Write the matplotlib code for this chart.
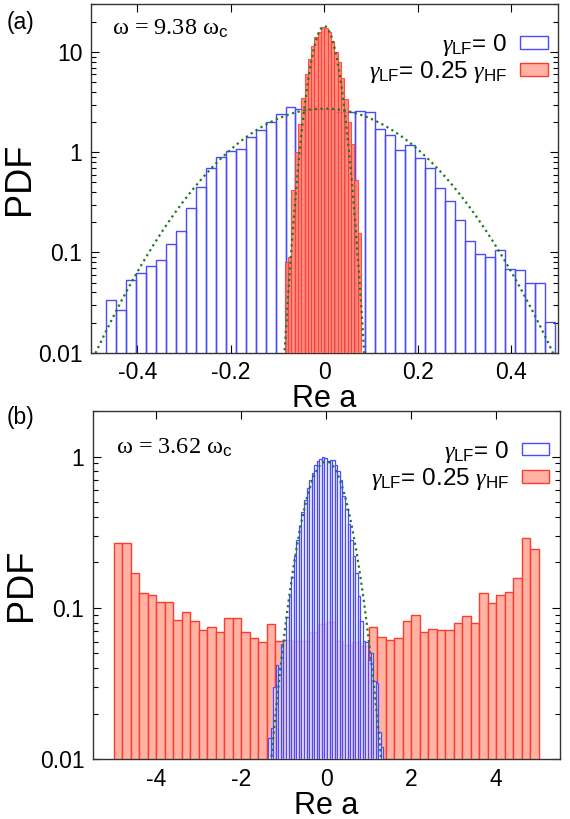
import numpy as np
import matplotlib.pyplot as plt
from matplotlib.patches import Patch

plt.rcParams['font.family'] = ['Liberation Sans', 'DejaVu Sans']
plt.rcParams['mathtext.fontset'] = 'custom'
plt.rcParams['mathtext.rm'] = 'Liberation Sans'
plt.rcParams['mathtext.sf'] = 'Liberation Sans'
plt.rcParams['mathtext.it'] = 'Liberation Serif:italic'

# ---- panel (a): omega = 9.38 omega_c ----
a_blue_lo = -0.467          # first bin edge, gamma_LF = 0
a_blue_w = 0.02133          # bin width
a_blue = [0.0335, 0.0266, 0.053, 0.063, 0.073, 0.084, 0.121, 0.164, 0.279, 0.454,
          0.70, 0.905, 1.04, 1.07, 1.43, 1.67, 2.03, 2.41, 2.83, 2.7,
          2.7, 2.7, 2.7, 2.5, 2.55, 2.6, 2.5, 1.7, 1.49, 1.06,
          1.19, 0.87, 0.69, 0.44, 0.33, 0.21, 0.129, 0.096, 0.091, 0.106,
          0.069, 0.066, 0.050, 0.050, 0.020]

a_red_lo = -0.085           # gamma_LF = 0.25 gamma_HF
a_red_w = 0.0071
a_red = [0.08, 0.09, 0.42, 1.0, 1.9, 3.5, 6.0, 8.5, 11.5, 14.0,
         16.0, 18.0, 17.5, 16.0, 13.0, 10.0, 8.0, 5.5, 3.4, 2.0,
         1.2, 0.53, 0.155]

a_sigma_wide = 0.146        # dotted gaussian fits
a_sigma_narrow = 0.022

# ---- panel (b): omega = 3.62 omega_c ----
b_blue_lo = -1.37
b_blue_w = 0.0604
b_blue = [0.0137, 0.016, 0.030, 0.042, 0.040, 0.058, 0.061, 0.087, 0.12, 0.16,
          0.22, 0.28, 0.35, 0.43, 0.52, 0.62, 0.70, 0.78, 0.88, 0.93,
          0.97, 1.0, 0.98, 0.94, 0.95, 0.95, 0.88, 0.80, 0.70, 0.55,
          0.45, 0.36, 0.28, 0.22, 0.17, 0.12, 0.082, 0.060, 0.059, 0.045,
          0.050, 0.033, 0.032, 0.015, 0.012]

b_red_lo = -5.0
b_red_w = 0.2
b_red = [0.267, 0.267, 0.171, 0.125, 0.122, 0.110, 0.110, 0.083, 0.094, 0.082,
         0.071, 0.075, 0.069, 0.086, 0.086, 0.069, 0.063, 0.059, 0.078, 0.060,
         0.061, 0.060, 0.060, 0.069, 0.078, 0.081, 0.060, 0.057, 0.059, 0.056,
         0.075, 0.064, 0.061, 0.063, 0.082, 0.090, 0.069, 0.073, 0.071, 0.071,
         0.080, 0.088, 0.079, 0.126, 0.107, 0.121, 0.127, 0.158, 0.29, 0.245]

b_sigma = 0.43

BLUE = '#4a4aff'
RED_EDGE = '#ff3b30'
RED_FACE = '#ffb3a4'
GREEN = '#1f7a1f'


def gauss(x, s):
    return np.exp(-x**2 / (2 * s**2)) / (s * np.sqrt(2 * np.pi))


def hist(ax, lo, w, vals, **kw):
    left = lo + w * np.arange(len(vals))
    ax.bar(left, vals, width=w, align='edge', bottom=1e-4, **kw)


def style(ax, xt, xl, yt, yl):
    ax.set_yscale('log')
    ax.set_xticks(xt)
    ax.set_xticklabels(xl)
    ax.set_yticks(yt)
    ax.set_yticklabels(yl)
    ax.tick_params(which='both', direction='in', top=True, right=True, labelsize=16.5)
    ax.tick_params(which='major', length=6, width=0.8, pad=6)
    ax.tick_params(which='minor', length=3.5, width=0.8)
    for s in ax.spines.values():
        s.set_color('#333333')
        s.set_linewidth(1.0)
    ax.set_xlabel('Re a', fontsize=22, labelpad=0)
    ax.set_ylabel('PDF', fontsize=26)
    ax.yaxis.set_label_coords(-0.115, 0.5)


fig = plt.figure(figsize=(5.7, 8.19), dpi=100)

# (a)
ax1 = fig.add_axes([0.159, 0.5694, 0.820, 0.4253])
hist(ax1, a_blue_lo, a_blue_w, a_blue, facecolor='none', edgecolor=BLUE, linewidth=1.0, zorder=2)
hist(ax1, a_red_lo, a_red_w, a_red, facecolor='#ff7a6a', edgecolor=RED_EDGE, linewidth=0.8,
     alpha=0.85, zorder=3)
xs = np.linspace(-0.5, 0.5, 600)
ax1.plot(xs, gauss(xs, a_sigma_wide), ls=(0, (1, 1.6)), color=GREEN, lw=1.6, zorder=4)
xn = np.linspace(-0.12, 0.12, 400)
ax1.plot(xn, gauss(xn, a_sigma_narrow), ls=(0, (1, 1.6)), color=GREEN, lw=1.6, zorder=4)
ax1.set_xlim(-0.5, 0.5)
ax1.set_ylim(0.01, 30)
style(ax1, [-0.4, -0.2, 0, 0.2, 0.4], ['-0.4', '-0.2', '0', '0.2', '0.4'],
      [0.01, 0.1, 1, 10], ['0.01', '0.1', '1', '10'])
ax1.text(0.045, 0.93, 'ω = 9.38 ω$_\\mathrm{c}$', transform=ax1.transAxes, fontsize=17.5,
         family='Liberation Serif', va='center', ha='left')

# (b)
ax2 = fig.add_axes([0.1626, 0.0729, 0.8194, 0.4253])
hist(ax2, b_red_lo, b_red_w, b_red, facecolor=RED_FACE, edgecolor=RED_EDGE, linewidth=1.0, zorder=2)
hist(ax2, b_blue_lo, b_blue_w, b_blue, facecolor=(1, 1, 1, 0.7), edgecolor=BLUE, linewidth=0.9,
     zorder=3)
xb = np.linspace(-1.5, 1.5, 600)
ax2.plot(xb, gauss(xb, b_sigma), ls=(0, (1, 1.6)), color=GREEN, lw=1.6, zorder=4)
ax2.set_xlim(-5.5, 5.5)
ax2.set_ylim(0.01, 2)
style(ax2, [-4, -2, 0, 2, 4], ['-4', '-2', '0', '2', '4'],
      [0.01, 0.1, 1], ['0.01', '0.1', '1'])
ax2.text(0.05, 0.895, 'ω = 3.62 ω$_\\mathrm{c}$', transform=ax2.transAxes, fontsize=17.5,
         family='Liberation Serif', va='center', ha='left')

handles = [Patch(facecolor='white', edgecolor=BLUE, linewidth=1.0),
           Patch(facecolor=RED_FACE, edgecolor=RED_EDGE, linewidth=1.0)]
labels = ['$\\gamma_\\mathrm{LF}$= 0', '$\\gamma_\\mathrm{LF}$= 0.25 $\\gamma_\\mathrm{HF}$']
for ax in (ax1, ax2):
    ax.legend(handles, labels, loc='upper right', bbox_to_anchor=(0.978, 0.92), frameon=False,
              markerfirst=False, fontsize=17.5, handlelength=1.15, handleheight=0.42,
              handletextpad=0.5, labelspacing=0.05, borderaxespad=0.0, borderpad=0.0)

fig.text(0.012, 0.987, '(a)', fontsize=16.5, va='top')
fig.text(0.012, 0.504, '(b)', fontsize=16.5, va='top')

fig.savefig('out.png', dpi=100)
